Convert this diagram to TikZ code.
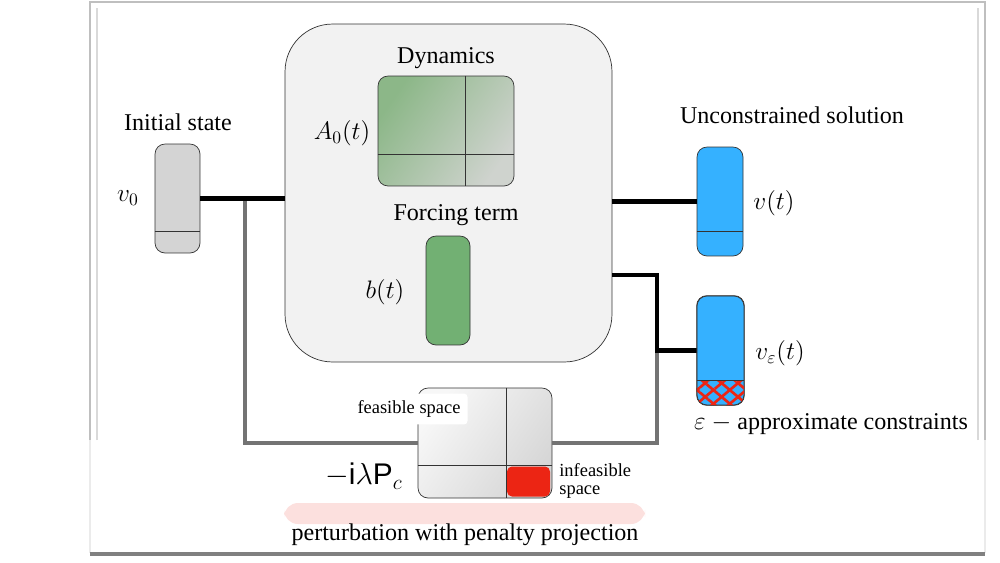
\documentclass[tikz,border=0pt]{standalone}
\usepackage{fontspec}
\setmainfont{Liberation Serif}
\setsansfont{Liberation Sans}
\usetikzlibrary{calc,patterns.meta}

\definecolor{lgray}{HTML}{D4D4D4}
\definecolor{bggray}{HTML}{F2F2F2}
\definecolor{dgreen}{HTML}{8CB788}
\definecolor{pgreen}{HTML}{CFD3CE}
\definecolor{bgreen}{HTML}{72B073}
\definecolor{sky}{HTML}{35B1FF}
\definecolor{cred}{HTML}{EC2514}

\begin{document}
\begin{tikzpicture}[x=0.02cm,y=-0.02cm,
  box/.style={draw=black!80,rounded corners=0.2cm,inner sep=0pt},
  wire/.style={line width=2.3pt},
  gwire/.style={line width=2.3pt,draw=black!55},
  lab/.style={font=\fontsize{13.7}{16}\selectfont},
  small/.style={font=\fontsize{10.5}{10.5}\selectfont}]

\useasboundingbox (0,0) rectangle (1000,562);

% рамка страницы
\draw[black!25,line width=1.2pt] (90,440) -- (90,2) -- (985,2) -- (985,440);
\draw[black!15,line width=0.6pt] (97,440) -- (97,8);
\draw[black!15,line width=0.6pt] (978,440) -- (978,8);
\draw[black!8,line width=0.6pt] (90,440) -- (90,553);
\draw[black!8,line width=0.6pt] (985,440) -- (985,553);
\draw[black!50,line width=1.8pt] (90,554) -- (985,554);

% узлы
\node[box,fill=lgray,minimum width=0.9cm,minimum height=2.18cm] (V0) at (177.5,198.5) {};
\node[box,fill=bggray,rounded corners=0.95cm,minimum width=6.54cm,minimum height=6.76cm] (Big) at (448.5,193) {};
\node[box,left color=pgreen,right color=dgreen,shading angle=-125,minimum width=2.72cm,minimum height=2.2cm] (A) at (446,131) {};
\node[box,fill=bgreen,minimum width=0.88cm,minimum height=2.18cm] (B) at (448,290.5) {};
\node[box,fill=sky,minimum width=0.92cm,minimum height=2.18cm] (V) at (720,201.5) {};
\node[box,fill=sky,minimum width=0.94cm,minimum height=2.18cm] (Ve) at (720.5,350.5) {};
\node[box,left color=black!16,right color=black!3,shading angle=-125,minimum width=2.68cm,minimum height=2.2cm] (P) at (485,443) {};

% провода
\coordinate (J1) at ($(V0.east)!0.53!(V0.east -| Big.west)$);
\coordinate (O2) at (612,275);
\coordinate (J2) at (657,350.5);
\draw[gwire] (J1) |- (P.west);
\draw[gwire] (J2) |- (P.east);
\draw[wire] (V0.east) -- (V0.east -| Big.west);
\draw[wire] (Big.east |- V.west) -- (V.west);
\draw[wire] (O2) -| (J2) -- (Ve.west);

% внутренние линии
\draw[black!80] (V0.west |- 0,231) -- (V0.east |- 0,231);
\draw[black!80] (A.north -| 465,0) -- (A.south -| 465,0);
\draw[black!80] (A.west |- 0,154) -- (A.east |- 0,154);
\draw[black!80] (V.west |- 0,231) -- (V.east |- 0,231);
\begin{scope}
  \clip[rounded corners=0.2cm] (Ve.north west) rectangle (Ve.south east);
  \fill[pattern={Lines[angle=40,distance=6pt,line width=1.5pt]},pattern color=cred] (Ve.west |- 0,380) rectangle (Ve.south east);
  \fill[pattern={Lines[angle=-40,distance=6pt,line width=1.5pt]},pattern color=cred] (Ve.west |- 0,380) rectangle (Ve.south east);
\end{scope}
\draw[box,fill=none] (Ve.north west) rectangle (Ve.south east);
\draw[black!80] (Ve.west |- 0,380) -- (Ve.east |- 0,380);
\draw[black!80] (P.north -| 506,0) -- (P.south -| 506,0);
\draw[black!80] (P.west |- 0,465) -- (P.east |- 0,465);
\node[fill=cred,rounded corners=0.1cm,minimum width=0.86cm,minimum height=0.6cm,inner sep=0pt] (R) at (528.5,481.5) {};

% подписи
\node[lab] (T1) at (178,122) {Initial state};
\node[lab] (L1) at (128,198) {$v_0$};
\node[lab] (T2) at (446,58) {Dynamics};
\node[lab] (L2) at (342,133) {$A_0(t)$};
\node[lab] (T3) at (456,215) {Forcing term};
\node[lab] (L3) at (385,292) {$b(t)$};
\node[lab] (T4) at (792,115) {Unconstrained solution};
\node[lab] (L4) at (774,203) {$v(t)$};
\node[lab] (L5) at (780,353) {$v_\varepsilon(t)$};
\node[lab] (T5) at (831,424) {$\varepsilon$ $-$ approximate constraints};
\node[small,fill=white,rounded corners=2pt,inner sep=4pt] (F) at (409,409) {feasible space};
\node[small,align=left,anchor=west,inner sep=0pt] (I) at (559,481) {infeasible\\space};
\node[font=\fontsize{17}{20}\selectfont] (L6) at (364,476) {$-\mathsf{i}\lambda\mathsf{P}_c$};
\fill[cred!20,rounded corners=8pt,opacity=0.7] (284,503) rectangle (645,524);
\node[lab] (T6) at (465,535) {perturbation with penalty projection};

\end{tikzpicture}
\end{document}
